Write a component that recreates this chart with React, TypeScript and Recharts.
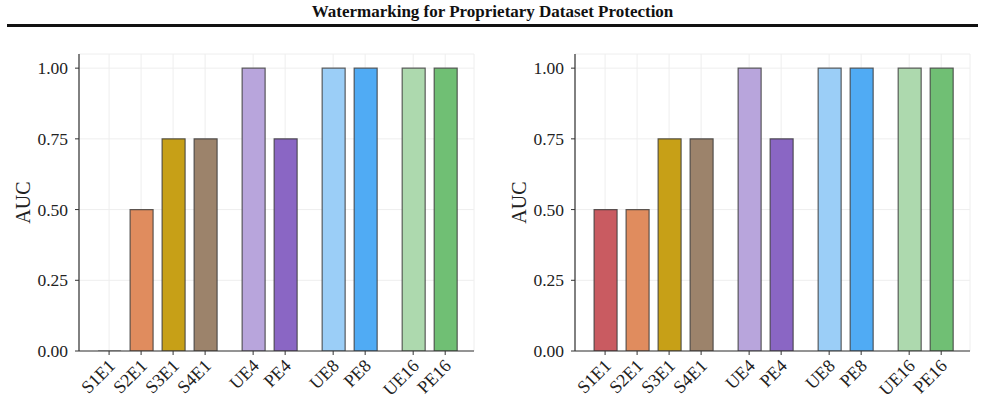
import React from 'react';
import { BarChart, Bar, XAxis, YAxis, CartesianGrid, Cell } from 'recharts';

// Methods, in plotting order
const methods = ['S1E1', 'S2E1', 'S3E1', 'S4E1', 'UE4', 'PE4', 'UE8', 'PE8', 'UE16', 'PE16'];
// x slot of each method: groups of 4 / 2 / 2 / 2 with a half-slot gap between groups
const slots = [0, 1, 2, 3, 4.5, 5.5, 7, 8, 9.5, 10.5];

const aucLeft = [0.0, 0.5, 0.75, 0.75, 1.0, 0.75, 1.0, 1.0, 1.0, 1.0];
const aucRight = [0.5, 0.5, 0.75, 0.75, 1.0, 0.75, 1.0, 1.0, 1.0, 1.0];

const barColors = [
  '#C95B61', // S1E1
  '#E08C5E', // S2E1
  '#C7A017', // S3E1
  '#9C836B', // S4E1
  '#B8A5DC', // UE4
  '#8A66C4', // PE4
  '#9BCEF7', // UE8
  '#50ABF4', // PE8
  '#ADD9AE', // UE16
  '#70BF74'  // PE16
];

const yTicks = [0, 0.25, 0.5, 0.75, 1.0];

const FONT = '"Liberation Serif", "DejaVu Serif", serif';
const AXIS_COLOR = '#333333';

const buildRows = (values: number[]) =>
  methods.map((name, i) => ({ name, slot: slots[i], auc: values[i] }));

// outlined bar that still shows a flat edge when the value is zero
const OutlinedBar = (props: any) => {
  const { x, y, width, height, fill } = props;
  if (x == null || y == null || !width) return null;
  const h = height || 0;
  return (
    <path
      d={`M${x},${y} h${width} v${h} h${-width} Z`}
      fill={fill}
      stroke="#3a3a3a"
      strokeOpacity={0.8}
      strokeWidth={1.2}
    />
  );
};

const SlotTick = (props: any) => {
  const { x, y, payload } = props;
  const idx = slots.indexOf(payload.value);
  const label = idx >= 0 ? methods[idx] : '';
  return (
    <g transform={`translate(${x + 7},${y + 10})`}>
      <text
        x={0}
        y={0}
        textAnchor="end"
        transform="rotate(-45)"
        fontFamily={FONT}
        fontSize={18}
        fill="#222"
      >
        {label}
      </text>
    </g>
  );
};

const AucTick = (props: any) => {
  const { x, y, payload } = props;
  return (
    <text
      x={x - 5}
      y={y}
      dy={6}
      textAnchor="end"
      fontFamily={FONT}
      fontSize={17.5}
      fill="#222"
    >
      {Number(payload.value).toFixed(2)}
    </text>
  );
};

const AucPanel: React.FC<{ values: number[] }> = ({ values }) => {
  const rows = buildRows(values);
  return (
    <BarChart
      width={490}
      height={374}
      data={rows}
      margin={{ top: 24, right: 16, bottom: 0, left: 0 }}
    >
      <CartesianGrid stroke="#eeeeee" strokeWidth={1} />
      <XAxis
        dataKey="slot"
        type="number"
        domain={[-0.94, 11.4]}
        ticks={slots}
        interval={0}
        height={53}
        allowDataOverflow
        tick={<SlotTick />}
        tickSize={4}
        tickLine={{ stroke: AXIS_COLOR }}
        axisLine={{ stroke: AXIS_COLOR, strokeWidth: 1.2 }}
      />
      <YAxis
        type="number"
        domain={[0, 1.05]}
        ticks={yTicks}
        allowDataOverflow
        width={79}
        tickSize={4}
        tick={<AucTick />}
        tickLine={{ stroke: AXIS_COLOR }}
        axisLine={{ stroke: AXIS_COLOR, strokeWidth: 1.2 }}
        label={{
          value: 'AUC',
          angle: -90,
          position: 'insideLeft',
          offset: 23,
          style: { fontFamily: FONT, fontSize: 20, fill: '#222', textAnchor: 'middle' }
        }}
      />
      <Bar dataKey="auc" barSize={23} isAnimationActive={false} shape={<OutlinedBar />}>
        {rows.map((r, i) => (
          <Cell key={r.name} fill={barColors[i]} />
        ))}
      </Bar>
    </BarChart>
  );
};

export default function App() {
  return (
    <div
      style={{
        position: 'absolute',
        left: 0,
        top: 0,
        width: 985,
        height: 404,
        background: '#fff',
        overflow: 'hidden'
      }}
    >
      <div
        style={{
          position: 'absolute',
          left: 0,
          top: 2,
          width: 985,
          textAlign: 'center',
          fontFamily: FONT,
          fontWeight: 'bold',
          fontSize: 17,
          color: '#111'
        }}
      >
        Watermarking for Proprietary Dataset Protection
      </div>
      <div
        style={{
          position: 'absolute',
          left: 7,
          top: 24,
          width: 971,
          height: 2.5,
          background: '#111'
        }}
      />
      <div style={{ position: 'absolute', left: 0, top: 30 }}>
        <AucPanel values={aucLeft} />
      </div>
      <div style={{ position: 'absolute', left: 496, top: 30 }}>
        <AucPanel values={aucRight} />
      </div>
    </div>
  );
}
